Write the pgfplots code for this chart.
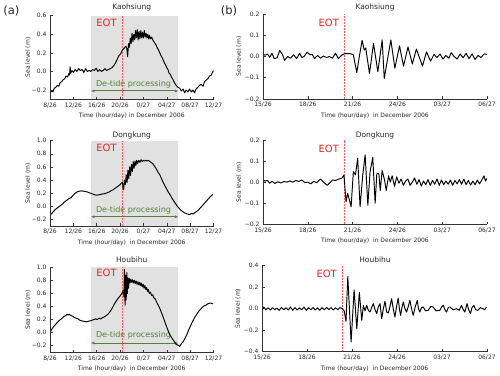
\documentclass[border=0pt]{standalone}
\usepackage{fontspec}
\setmainfont{DejaVu Sans}
\usepackage{pgfplots}
\pgfplotsset{compat=1.18}
\usetikzlibrary{arrows.meta}
\definecolor{shadegray}{RGB}{225,225,225}
\definecolor{eotred}{RGB}{238,32,32}
\definecolor{eotline}{RGB}{255,90,90}
\definecolor{dtgreen}{RGB}{84,130,53}
\pgfplotsset{
 panel/.style={
  scale only axis, axis on top,
  axis x line*=bottom, axis y line*=left,
  axis line style={black!80, line width=0.5pt, -},
  tick align=inside, major tick length=2.5pt,
  tick style={black!80, line width=0.5pt},
  ticklabel style={font=\fontsize{6}{7}\selectfont, text=black!85},
  ylabel={Sea level (m)},
  xlabel style={at={(axis description cs:0.5,0)}, anchor=center, yshift=-17pt, font=\fontsize{6}{7}\selectfont, text=black!85},
  ylabel style={anchor=center, font=\fontsize{6}{7}\selectfont, text=black!85},
 },
 leftp/.style={panel, width=163.5pt, xmin=8, xmax=36, ymin=-0.3,
  xtick={8,12,16,20,24,28,32,36},
  xticklabels={8/26,12/26,16/26,20/26,0/27,04/27,08/27,12/27},
  ylabel style={at={(axis description cs:-0.135,0.5)}}},
 rightp/.style={panel, width=224pt, xmin=15, xmax=30,
  xtick={15,18,21,24,27,30},
  xticklabels={15/26,18/26,21/26,24/26,03/27,06/27},
  ylabel style={at={(axis description cs:-0.107,0.5)}}},
 sl/.style={black, line width=0.95pt, line join=round},
}
\tikzset{ttl/.style={anchor=base, font=\fontsize{7.5}{9}\selectfont, text=black!85, inner sep=0pt}}
\begin{document}
\begin{tikzpicture}[x=1pt,y=1pt]
\path[use as bounding box] (0,0) rectangle (500,375);
\node[font=\fontsize{11.5}{13}\selectfont, text=black!85] at (11.3,364.5) {(a)};
\node[font=\fontsize{11.5}{13}\selectfont, text=black!85] at (229,364.5) {(b)};
\node[ttl] at (131.75,365) {Kaohsiung};
\node[ttl] at (375,365) {Kaohsiung};
\node[ttl] at (131.75,237.5) {Dongkung};
\node[ttl] at (375,237.5) {Dongkung};
\node[ttl] at (131.75,112.5) {Houbihu};
\node[ttl] at (375,112.5) {Houbihu};

% ---------- (a) Kaohsiung
\begin{axis}[leftp, at={(50pt,359.3pt)}, anchor=north west, height=83.6pt,
  ymax=0.6, ytick={-0.2,0,0.2,0.4,0.6}, yticklabels={−0.2,0.0,0.2,0.4,0.6},
  xlabel={Time (hour/day) in December 2006}]
\fill[shadegray] (axis cs:15,-0.3) rectangle (axis cs:30,0.6);
\draw[eotline, line width=1.1pt, dash pattern=on 2pt off 1pt] (axis cs:20.45,-0.3) -- (axis cs:20.45,0.6);
\node[anchor=east, inner sep=0pt, text=eotred, font=\fontsize{10}{12}\selectfont] at (axis cs:19.45,0.52) {EOT};
\draw[dtgreen, line width=0.9pt, {Latex[length=3.5pt,width=3pt]}-{Latex[length=3.5pt,width=3pt]}] (axis cs:15,-0.21) -- (axis cs:30,-0.21);
\node[text=dtgreen, font=\fontsize{8}{10}\selectfont, inner sep=0pt] at (axis cs:22.3,-0.135) {De-tide processing};
\addplot[sl] coordinates {
(8.0,-0.23) (8.25,-0.21) (8.5,-0.22) (8.75,-0.18) (9.0,-0.17) (9.25,-0.15) (9.5,-0.16) (9.75,-0.12)
(10.0,-0.11) (10.25,-0.09) (10.5,-0.08) (10.75,-0.05) (11.0,-0.06) (11.25,-0.02) (11.35,-0.04) (11.45,0.05)
(11.55,-0.02) (11.75,0.01) (12.0,-0.01) (12.3,0.02) (12.6,0.00) (12.9,0.03) (13.2,0.01) (13.5,0.02)
(13.8,-0.01) (14.1,0.03) (14.4,0.00) (14.7,0.01) (15.0,0.00) (15.3,0.02) (15.6,0.01) (15.9,0.035)
(16.2,0.00) (16.5,0.02) (16.8,0.00) (17.1,0.01) (17.4,0.03) (17.7,0.01) (18.0,0.02) (18.3,0.03)
(18.6,0.04) (18.9,0.06) (19.2,0.09) (19.5,0.13) (19.8,0.17) (20.1,0.19) (20.4,0.23) (20.7,0.25)
(21.0,0.27) (21.15,0.25) (21.3,0.16) (21.45,0.30) (21.6,0.26) (21.75,0.36) (21.9,0.30) (22.05,0.41)
(22.2,0.32) (22.35,0.40) (22.5,0.34) (22.65,0.44) (22.8,0.36) (22.95,0.45) (23.1,0.34) (23.25,0.43)
(23.4,0.35) (23.55,0.44) (23.7,0.36) (23.85,0.42) (24.0,0.36) (24.15,0.44) (24.3,0.37) (24.45,0.41)
(24.6,0.36) (24.75,0.40) (24.9,0.35) (25.05,0.39) (25.2,0.35) (25.4,0.37) (25.6,0.34) (25.8,0.32)
(26.0,0.30) (26.2,0.28) (26.4,0.25) (26.6,0.23) (26.8,0.20) (27.0,0.17) (27.2,0.15) (27.4,0.12)
(27.6,0.09) (27.8,0.07) (28.0,0.04) (28.2,0.02) (28.4,-0.02) (28.6,-0.03) (28.8,-0.06) (29.0,-0.08)
(29.3,-0.12) (29.6,-0.15) (29.9,-0.17) (30.2,-0.18) (30.5,-0.21) (30.8,-0.19) (31.05,-0.23) (31.3,-0.20)
(31.6,-0.22) (31.9,-0.19) (32.2,-0.22) (32.5,-0.20) (32.76,-0.23) (33.0,-0.19) (33.33,-0.17) (33.6,-0.15)
(33.9,-0.14) (34.2,-0.16) (34.47,-0.11) (34.8,-0.09) (35.04,-0.08) (35.3,-0.05) (35.61,-0.04) (35.9,0.00) (36.0,0.01)
};
\end{axis}

% ---------- (a) Dongkung
\begin{axis}[leftp, at={(50pt,234.3pt)}, anchor=north west, height=85.2pt,
  ymax=1.0, ytick={-0.2,0,0.2,0.4,0.6,0.8,1.0}, yticklabels={−0.2,0.0,0.2,0.4,0.6,0.8,1.0},
  xlabel={Time (hour/day)\ \ in December 2006}]
\fill[shadegray] (axis cs:15,-0.3) rectangle (axis cs:30,1.0);
\draw[eotline, line width=1.1pt, dash pattern=on 2pt off 1pt] (axis cs:20.45,-0.3) -- (axis cs:20.45,1.0);
\node[anchor=east, inner sep=0pt, text=eotred, font=\fontsize{10}{12}\selectfont] at (axis cs:19.45,0.89) {EOT};
\draw[dtgreen, line width=0.9pt, {Latex[length=3.5pt,width=3pt]}-{Latex[length=3.5pt,width=3pt]}] (axis cs:15,-0.16) -- (axis cs:30,-0.16);
\node[text=dtgreen, font=\fontsize{8}{10}\selectfont, inner sep=0pt] at (axis cs:22.3,-0.06) {De-tide processing};
\addplot[sl] coordinates {
(8.0,-0.14) (8.3,-0.11) (8.6,-0.08) (8.9,-0.05) (9.2,-0.03) (9.5,-0.01) (9.8,0.01) (10.1,0.03)
(10.4,0.06) (10.7,0.08) (11.0,0.10) (11.3,0.12) (11.6,0.13) (11.9,0.16) (12.2,0.19) (12.5,0.21)
(12.8,0.225) (13.1,0.23) (13.4,0.235) (13.7,0.23) (14.0,0.225) (14.3,0.22) (14.6,0.21) (14.9,0.20)
(15.2,0.19) (15.5,0.18) (15.8,0.17) (16.1,0.17) (16.4,0.175) (16.7,0.18) (17.0,0.19) (17.3,0.19)
(17.6,0.20) (17.9,0.21) (18.2,0.22) (18.5,0.24) (18.8,0.25) (19.1,0.27) (19.4,0.29) (19.7,0.31)
(20.0,0.33) (20.2,0.35) (20.4,0.37) (20.5,0.28) (20.6,0.25) (20.75,0.40) (20.9,0.33) (21.05,0.48)
(21.2,0.36) (21.35,0.55) (21.5,0.42) (21.65,0.60) (21.8,0.47) (21.95,0.64) (22.1,0.53) (22.25,0.68)
(22.4,0.58) (22.55,0.69) (22.7,0.62) (22.85,0.70) (23.0,0.65) (23.2,0.70) (23.4,0.67) (23.6,0.71)
(23.8,0.68) (24.0,0.70) (24.2,0.69) (24.4,0.70) (24.6,0.69) (24.8,0.70) (25.0,0.69) (25.3,0.67)
(25.6,0.65) (25.9,0.61) (26.2,0.57) (26.5,0.52) (26.8,0.48) (27.1,0.42) (27.4,0.36) (27.7,0.31)
(28.0,0.26) (28.3,0.21) (28.6,0.17) (28.9,0.12) (29.2,0.08) (29.5,0.04) (29.8,0.00) (30.1,-0.03)
(30.4,-0.06) (30.7,-0.08) (31.0,-0.10) (31.3,-0.11) (31.6,-0.12) (31.9,-0.13) (32.2,-0.11) (32.5,-0.12)
(32.8,-0.10) (33.1,-0.08) (33.4,-0.06) (33.7,-0.03) (34.0,0.00) (34.3,0.03) (34.6,0.06) (34.9,0.09)
(35.2,0.12) (35.5,0.15) (35.9,0.18)
};
\end{axis}

% ---------- (a) Houbihu
\begin{axis}[leftp, at={(50pt,107.7pt)}, anchor=north west, height=84.9pt,
  ymax=1.0, ytick={-0.2,0,0.2,0.4,0.6,0.8,1.0}, yticklabels={−0.2,0.0,0.2,0.4,0.6,0.8,1.0},
  xlabel={Time (hour/day)\ \ in December 2006}]
\fill[shadegray] (axis cs:15,-0.3) rectangle (axis cs:30,1.0);
\draw[eotline, line width=1.1pt, dash pattern=on 2pt off 1pt] (axis cs:20.45,-0.3) -- (axis cs:20.45,1.0);
\node[anchor=east, inner sep=0pt, text=eotred, font=\fontsize{10}{12}\selectfont] at (axis cs:19.45,0.91) {EOT};
\draw[dtgreen, line width=0.9pt, {Latex[length=3.5pt,width=3pt]}-{Latex[length=3.5pt,width=3pt]}] (axis cs:15,-0.16) -- (axis cs:30,-0.16);
\node[text=dtgreen, font=\fontsize{8}{10}\selectfont, inner sep=0pt] at (axis cs:22.3,-0.04) {De-tide processing};
\addplot[sl] coordinates {
(8.0,0.0) (8.3,0.05) (8.6,0.09) (8.9,0.12) (9.2,0.15) (9.5,0.18) (9.8,0.20) (10.1,0.22)
(10.4,0.25) (10.7,0.26) (10.9,0.28) (11.1,0.27) (11.3,0.28) (11.6,0.26) (11.9,0.25) (12.2,0.23)
(12.5,0.22) (12.8,0.21) (13.1,0.19) (13.4,0.18) (13.7,0.175) (14.0,0.17) (14.3,0.165) (14.6,0.175)
(14.9,0.18) (15.2,0.19) (15.5,0.20) (15.8,0.21) (16.1,0.20) (16.4,0.22) (16.7,0.21) (17.0,0.23)
(17.3,0.24) (17.6,0.26) (17.9,0.28) (18.2,0.31) (18.5,0.35) (18.8,0.40) (19.1,0.45) (19.4,0.49)
(19.7,0.53) (20.0,0.56) (20.3,0.60) (20.45,0.62) (20.55,0.65) (20.65,0.55) (20.75,0.97) (20.85,0.42)
(20.95,0.88) (21.05,0.50) (21.15,0.92) (21.25,0.60) (21.35,0.84) (21.45,0.68) (21.55,0.83) (21.7,0.76)
(21.85,0.82) (22.0,0.77) (22.15,0.81) (22.3,0.76) (22.45,0.80) (22.6,0.75) (22.75,0.79) (22.9,0.74)
(23.05,0.78) (23.2,0.73) (23.35,0.77) (23.5,0.72) (23.65,0.76) (23.8,0.70) (23.95,0.74) (24.1,0.68)
(24.25,0.72) (24.4,0.66) (24.55,0.69) (24.7,0.63) (24.85,0.66) (25.0,0.60) (25.2,0.62) (25.4,0.57)
(25.6,0.58) (25.8,0.53) (26.0,0.52) (26.3,0.46) (26.6,0.41) (26.9,0.35) (27.2,0.28) (27.5,0.21)
(27.8,0.13) (28.1,0.06) (28.4,-0.01) (28.7,-0.06) (29.0,-0.10) (29.3,-0.14) (29.6,-0.18) (29.9,-0.19)
(30.2,-0.21) (30.5,-0.17) (30.8,-0.14) (31.1,-0.09) (31.4,-0.04) (31.7,0.03) (32.0,0.09) (32.3,0.15)
(32.6,0.20) (32.9,0.25) (33.2,0.29) (33.5,0.33) (33.8,0.36) (34.1,0.39) (34.4,0.41) (34.7,0.42)
(35.0,0.44) (35.3,0.45) (35.6,0.45) (35.9,0.44)
};
\end{axis}

% ---------- (b) Kaohsiung
\begin{axis}[rightp, at={(263pt,361pt)}, anchor=north west, height=85pt,
  ymin=-0.2, ymax=0.2, ytick={-0.2,-0.1,0,0.1,0.2}, yticklabels={−0.2,−0.1,0.0,0.1,0.2},
  xlabel={Time (hour/day)\ \ in December 2006}]
\draw[eotline, line width=1.1pt, dash pattern=on 2pt off 1pt] (axis cs:20.45,-0.2) -- (axis cs:20.45,0.2);
\node[anchor=east, inner sep=0pt, text=eotred, font=\fontsize{10}{12}\selectfont] at (axis cs:20.1,0.16) {EOT};
\addplot[sl] coordinates {
(15.00,0.010) (15.15,0.006) (15.30,0.012) (15.45,-0.004) (15.60,0.015) (15.75,-0.010) (15.95,-0.006) (16.12,0.028)
(16.30,0.010) (16.45,-0.018) (16.65,0.000) (16.85,-0.008) (17.05,0.008) (17.25,-0.010) (17.45,0.015) (17.60,-0.005)
(17.75,0.000) (17.95,0.020) (18.15,0.008) (18.30,0.010) (18.45,-0.010) (18.65,0.005) (18.85,-0.008) (19.05,0.002)
(19.25,-0.005) (19.45,0.000) (19.65,-0.008) (19.85,0.015) (20.05,-0.010) (20.25,0.005) (20.42,0.012) (20.60,0.014)
(20.85,0.013) (21.05,0.008) (21.28,-0.076) (21.45,0.000) (21.64,0.076) (21.78,0.030) (21.88,0.040) (22.13,-0.080)
(22.40,0.062) (22.69,-0.072) (22.98,0.078) (23.12,-0.103) (23.56,0.078) (23.83,-0.055) (24.14,0.050) (24.41,-0.045)
(24.71,0.045) (25.00,-0.035) (25.27,0.035) (25.68,-0.045) (25.95,0.022) (26.22,-0.022) (26.45,0.010) (26.65,-0.005)
(26.85,0.012) (27.05,-0.012) (27.25,0.005) (27.45,-0.008) (27.60,0.018) (27.80,0.000) (28.00,-0.012) (28.20,0.012)
(28.40,-0.006) (28.60,0.015) (28.80,-0.010) (29.00,0.012) (29.20,-0.014) (29.40,0.005) (29.60,-0.005) (29.80,0.012) (30.00,0.010)
};
\end{axis}

% ---------- (b) Dongkung
\begin{axis}[rightp, at={(263pt,235pt)}, anchor=north west, height=84.3pt,
  ymin=-0.2, ymax=0.2, ytick={-0.2,-0.1,0,0.1,0.2}, yticklabels={−0.2,−0.1,0.0,0.1,0.2},
  xlabel={Time (hour/day)\ \ in December 2006}]
\draw[eotline, line width=1.1pt, dash pattern=on 2pt off 1pt] (axis cs:20.45,-0.2) -- (axis cs:20.45,0.2);
\node[anchor=east, inner sep=0pt, text=eotred, font=\fontsize{10}{12}\selectfont] at (axis cs:20.1,0.16) {EOT};
\addplot[sl] coordinates {
(15.00,0.010) (15.15,0.005) (15.30,0.008) (15.45,-0.005) (15.60,0.004) (15.80,-0.006) (16.00,0.002) (16.20,-0.004)
(16.40,0.003) (16.60,0.000) (16.80,0.006) (17.00,0.000) (17.20,0.008) (17.40,0.003) (17.60,0.010) (17.80,-0.002)
(18.00,0.000) (18.20,-0.008) (18.40,0.004) (18.60,-0.003) (18.85,0.015) (19.05,0.000) (19.30,-0.015) (19.45,-0.005)
(19.65,0.010) (19.85,0.008) (20.10,0.015) (20.30,0.020) (20.42,0.034) (20.56,-0.093) (20.67,-0.053) (20.90,-0.117)
(21.05,0.050) (21.19,0.034) (21.34,0.114) (21.50,-0.117) (21.68,0.034) (21.84,0.130) (22.02,-0.110) (22.17,0.050)
(22.35,0.117) (22.51,-0.100) (22.62,0.040) (22.76,0.040) (22.85,-0.040) (22.98,0.055) (23.14,0.010) (23.25,-0.040)
(23.41,0.030) (23.52,0.000) (23.65,0.030) (23.81,-0.020) (23.95,0.025) (24.10,-0.005) (24.25,0.015) (24.40,-0.015)
(24.55,0.005) (24.70,0.015) (24.85,-0.015) (25.00,0.000) (25.15,0.020) (25.30,-0.010) (25.45,0.012) (25.60,-0.018)
(25.75,0.005) (25.90,-0.012) (26.05,0.012) (26.20,-0.015) (26.35,0.008) (26.50,-0.010) (26.65,0.015) (26.80,-0.015)
(26.95,0.010) (27.10,-0.012) (27.25,0.005) (27.40,-0.010) (27.55,0.010) (27.70,-0.015) (27.85,0.008) (28.00,-0.008)
(28.15,0.012) (28.30,-0.010) (28.45,0.015) (28.60,-0.012) (28.75,0.008) (28.90,-0.014) (29.05,0.005) (29.20,-0.012)
(29.35,0.010) (29.50,-0.008) (29.65,0.010) (29.80,0.030) (29.90,0.005) (30.00,0.018)
};
\end{axis}

% ---------- (b) Houbihu
\begin{axis}[rightp, at={(262pt,109.3pt)}, anchor=north west, height=86pt, width=225pt,
  ymin=-0.4, ymax=0.4, ytick={-0.4,-0.2,0,0.2,0.4}, yticklabels={−0.4,−0.2,0.0,0.2,0.4},
  xlabel={Time (hour/day)\ \ in December 2006}]
\draw[eotline, line width=1.1pt, dash pattern=on 2pt off 1pt] (axis cs:20.36,-0.4) -- (axis cs:20.36,0.4);
\node[anchor=east, inner sep=0pt, text=eotred, font=\fontsize{10}{12}\selectfont] at (axis cs:20.0,0.32) {EOT};
\addplot[sl] coordinates {
(15.00,0.000) (15.12,0.015) (15.25,-0.010) (15.40,0.008) (15.55,-0.012) (15.70,0.010) (15.85,-0.008) (16.00,0.005)
(16.15,-0.015) (16.30,0.012) (16.45,-0.010) (16.60,0.008) (16.75,-0.012) (16.90,0.015) (17.05,-0.015) (17.20,0.010)
(17.35,-0.012) (17.50,0.008) (17.65,-0.010) (17.80,0.015) (17.95,-0.015) (18.10,0.010) (18.25,-0.010) (18.40,0.012)
(18.55,-0.012) (18.70,0.008) (18.85,-0.015) (19.00,0.010) (19.15,-0.010) (19.30,0.012) (19.45,-0.008) (19.60,0.010)
(19.75,-0.012) (19.90,0.008) (20.05,-0.008) (20.20,0.010) (20.36,0.000) (20.48,-0.020) (20.60,-0.117) (20.72,0.300)
(20.94,-0.310) (21.14,0.175) (21.32,-0.186) (21.49,0.150) (21.65,-0.108) (21.76,0.030) (21.87,-0.020) (21.98,0.031)
(22.09,-0.015) (22.20,-0.031) (22.31,0.010) (22.42,0.047) (22.54,-0.010) (22.65,-0.046) (22.76,0.020) (22.87,0.047)
(22.98,-0.093) (23.09,0.000) (23.20,0.069) (23.31,-0.031) (23.42,-0.040) (23.53,0.020) (23.64,0.093) (23.75,0.000)
(23.86,-0.078) (23.97,0.020) (24.08,0.099) (24.16,0.000) (24.24,-0.062) (24.33,0.010) (24.42,0.062) (24.53,0.000)
(24.64,-0.031) (24.75,0.020) (24.86,0.078) (24.97,0.000) (25.08,-0.062) (25.20,0.010) (25.35,0.078) (25.43,0.000)
(25.52,-0.031) (25.63,0.010) (25.75,0.016) (25.90,-0.020) (26.08,-0.015) (26.25,0.020) (26.41,0.016) (26.60,-0.020)
(26.86,-0.015) (26.97,0.015) (27.08,0.031) (27.20,-0.010) (27.30,-0.031) (27.42,0.010) (27.52,0.016) (27.75,-0.010)
(27.97,0.000) (28.15,-0.015) (28.30,0.031) (28.42,-0.010) (28.52,-0.031) (28.67,0.047) (28.78,-0.010) (28.90,-0.046)
(29.00,0.010) (29.12,0.031) (29.25,-0.010) (29.40,-0.015) (29.55,0.010) (29.73,0.000) (29.85,-0.010) (29.96,0.016)
};
\end{axis}
\end{tikzpicture}
\end{document}
